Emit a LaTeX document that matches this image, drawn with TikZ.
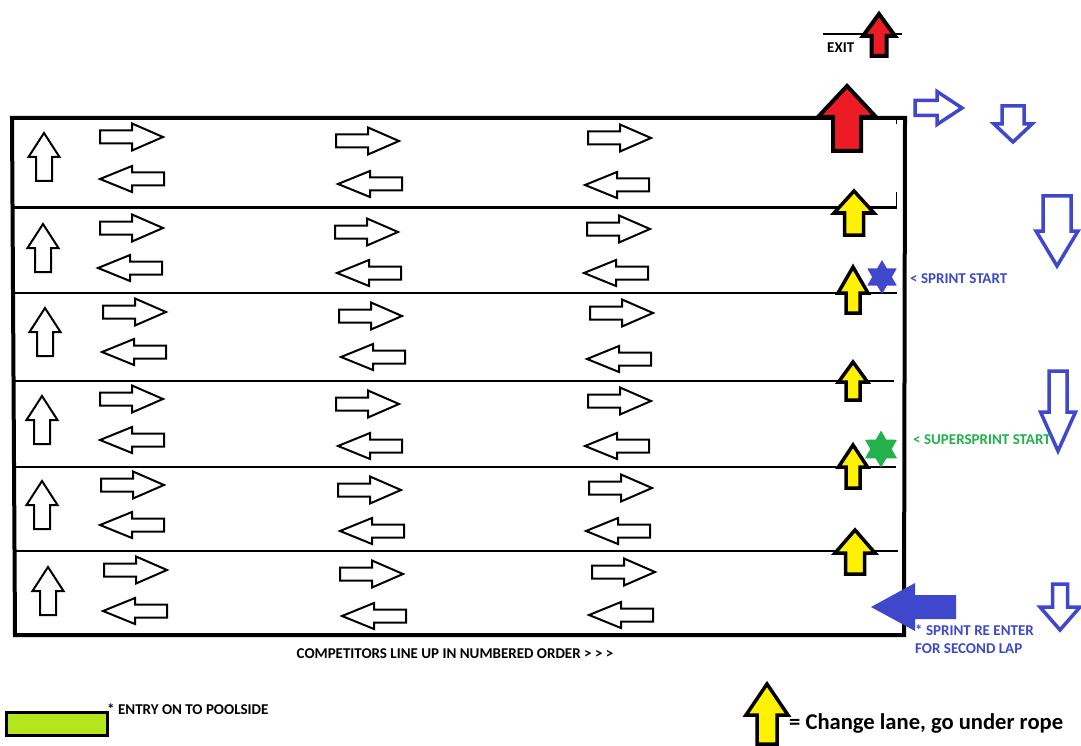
\documentclass[tikz,border=0pt]{standalone}
\usepackage{fontspec}
\setmainfont{Carlito}
\usetikzlibrary{shapes.geometric}
\definecolor{pblue}{RGB}{63,72,204}
\definecolor{pgreen}{RGB}{34,177,76}
\definecolor{pred}{RGB}{237,28,36}
\definecolor{pyellow}{RGB}{255,242,0}
\definecolor{plime}{RGB}{181,230,29}
% horizontal arrow: [style]{tip x}{centre y}{head base x}{tail x}{head half}{shaft half}
\newcommand{\HArr}[7][]{\draw[#1] (#2,#3) -- (#4,#3-#6) -- (#4,#3-#7) -- (#5,#3-#7) -- (#5,#3+#7) -- (#4,#3+#7) -- (#4,#3+#6) -- cycle;}
% vertical arrow: [style]{centre x}{tip y}{head base y}{tail y}{head half}{shaft half}
\newcommand{\VArr}[7][]{\draw[#1] (#2,#3) -- (#2+#6,#4) -- (#2+#7,#4) -- (#2+#7,#5) -- (#2-#7,#5) -- (#2-#7,#4) -- (#2-#6,#4) -- cycle;}
\newcommand{\RA}[2]{\HArr[lanearr]{#1+63}{#2}{#1+32}{#1}{13.5}{6.5}}
\newcommand{\LA}[2]{\HArr[lanearr]{#1}{#2}{#1+32}{#1+64}{13}{6.5}}
\newcommand{\UA}[2]{\VArr[lanearr]{#1}{#2}{#2+24}{#2+48}{15.5}{8}}
\begin{document}
\begin{tikzpicture}[x=1pt,y=-1pt,
  lanearr/.style={draw=black,fill=white,line width=2pt,line join=miter},
  yarr/.style={draw=black,fill=pyellow,line width=3.5pt,line join=miter},
  rarr/.style={draw=black,fill=pred,line width=4pt,line join=miter},
  barr/.style={draw=pblue,fill=white,line width=3.5pt,line join=miter},
  bfill/.style={draw=none,fill=pblue},
  rope/.style={draw=black,line width=1.5pt},
  lbl/.style={inner sep=0pt,font=\bfseries\fontsize{15}{18}\selectfont},
  starshape/.style={star,star points=6,star point ratio=1.73,inner sep=0pt,draw=none}]
\useasboundingbox (0,0) rectangle (1081,746);
\fill[white] (0,0) rectangle (1081,746);
% exit line
\draw[line width=2pt] (823,34) -- (902,34);
% pool outline and ropes
\draw[line width=4pt] (12,118) -- (905,118) -- (904,635) -- (15,635) -- cycle;
\draw[line width=3pt] (12,208) -- (897,208);
\draw[rope] (12,293) -- (897,293);
\draw[rope] (14,381) -- (894,381);
\draw[rope] (14,467) -- (896,467);
\draw[rope] (15,551) -- (898,551);
\draw[line width=1pt] (896,120) -- (896,124);
\draw[line width=1pt] (896,192) -- (896,206);
% lane arrows
\UA{44}{133} \RA{100}{137} \RA{336}{141} \RA{588}{138} \LA{100}{179} \LA{338}{184} \LA{585}{185}
\UA{43}{224} \RA{100}{228} \RA{335}{232} \RA{587}{229} \LA{98}{268} \LA{337}{273} \LA{584}{273}
\UA{45}{308} \RA{103}{312} \RA{339}{316} \RA{590}{313} \LA{102}{352} \LA{341}{357} \LA{587}{359}
\UA{42}{396} \RA{100}{399} \RA{336}{404} \RA{588}{401} \LA{100}{440} \LA{338}{446} \LA{585}{446}
\UA{42}{481} \RA{101}{485} \RA{338}{490} \RA{589}{488} \LA{100}{525} \LA{340}{531} \LA{586}{531}
\UA{48}{567} \RA{104}{570} \RA{340}{574} \RA{592}{572} \LA{103}{611} \LA{342}{616} \LA{589}{615}
% yellow change-lane arrows
\VArr[yarr]{854}{191}{213}{235}{20}{9.5}
\VArr[yarr]{853}{267}{293}{313}{15}{7}
\VArr[yarr]{853}{362}{382}{400}{14.5}{7}
\VArr[yarr]{853}{445}{467}{488}{14.5}{7}
\VArr[yarr]{855}{530}{553}{574}{20}{9.5}
% red exit arrows
\VArr[rarr]{847}{86}{117}{151}{29}{14}
\VArr[rarr]{879}{14}{36}{56}{16}{7.5}
% blue route arrows
\HArr[barr]{962}{108}{937}{915}{16.5}{7.5}
\VArr[barr]{1013}{142}{124}{106}{19}{11}
\VArr[barr]{1057}{266}{231}{196}{21}{14}
\VArr[barr]{1058}{451}{412}{371}{17.5}{9}
\VArr[barr]{1060}{630}{607}{584}{20}{7.5}
\HArr[bfill]{871}{607}{915}{956}{24}{12}
% stars
\node[starshape,fill=pblue,minimum size=34pt] (sprintstar) at (882,277) {};
\node[starshape,fill=pgreen,minimum size=37pt] (superstar) at (881,449) {};
% texts
\node[lbl,anchor=west] (exit) at (827,48) {EXIT};
\node[lbl,anchor=west,text=pblue] (sprint) at (910,279) {< SPRINT START};
\node[lbl,anchor=west,text=pgreen] (super) at (913,440) {< SUPERSPRINT START};
\node[lbl,anchor=north west,text=pblue,align=left] (reenter) at (915,625) {* SPRINT RE ENTER\\FOR SECOND LAP};
\node[lbl] (compet) at (455,654) {COMPETITORS LINE UP IN NUMBERED ORDER > > >};
\draw[line width=3pt,fill=plime] (6,712) rectangle (107,735);
\node[lbl,anchor=north west] (entry) at (107,704) {* ENTRY ON TO POOLSIDE};
\VArr[yarr]{767}{684}{715}{744}{21}{10}
\node[inner sep=0pt,anchor=west,font=\bfseries\fontsize{22.6}{26}\selectfont] (legend) at (789,723) {= Change lane, go under rope};
\end{tikzpicture}
\end{document}
